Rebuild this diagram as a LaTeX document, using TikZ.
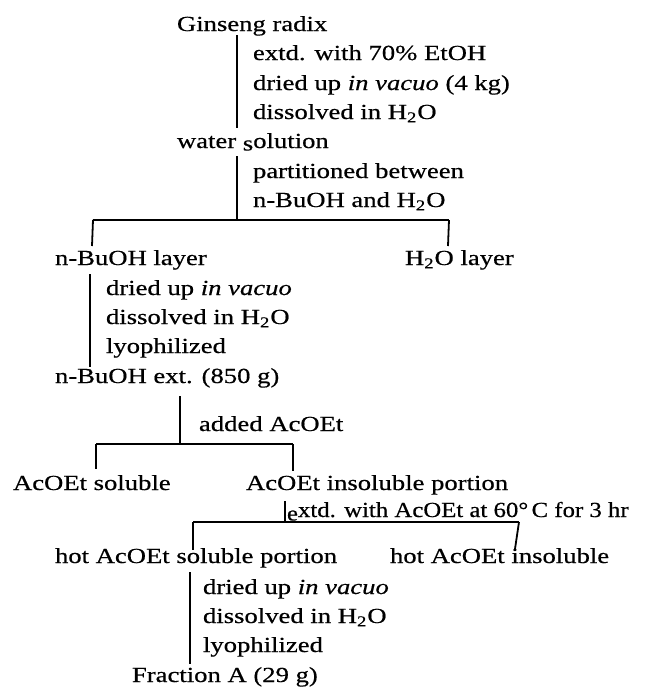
\documentclass[tikz,border=0pt]{standalone}
\usepackage{fontspec}
\usepackage{graphicx}
\setmainfont{Liberation Serif}[FakeStretch=1.24,FakeBold=0.5]
\begin{document}
\begin{tikzpicture}[x=0.5pt,y=-0.5pt,
  lbl/.style={anchor=base west,inner sep=0pt,outer sep=0pt,font=\fontsize{10.75}{13}\selectfont},
  ln/.style={line width=0.9pt}]
\useasboundingbox (0,0) rectangle (650,698);
% --- texts
\node[lbl] (gin) at (177,31) {Ginseng radix};
\node[lbl] (s1a) at (253,60) {extd. with 70\% EtOH};
\node[lbl] (s1b) at (253,90) {dried up \textit{in vacuo} (4 kg)};
\node[lbl] (s1c) at (253,119) {dissolved in H\textsubscript{2}O};
\node[lbl] (wat) at (177,148) {water \raisebox{-0.25ex}{s}olution};
\node[lbl] (s2a) at (253,178) {partitioned between};
\node[lbl] (s2b) at (253,207) {n-BuOH and H\textsubscript{2}O};
\node[lbl] (bul) at (55,265) {n-BuOH layer};
\node[lbl] (h2o) at (405,265) {H\textsubscript{2}O layer};
\node[lbl] (s3a) at (106,295) {dried up \textit{in vacuo}};
\node[lbl] (s3b) at (106,324) {dissolved in H\textsubscript{2}O};
\node[lbl] (s3c) at (106,353) {lyophilized};
\node[lbl] (bue) at (55,383) {n-BuOH ext. (850 g)};
\node[lbl] (s4) at (199,431) {added AcOEt};
\node[lbl] (acs) at (13,490) {AcOEt soluble};
\node[lbl] (aci) at (246,490) {AcOEt insoluble portion};
\node[lbl] (s5) at (287,517) {\scalebox{0.93}[1]{\raisebox{-0.35ex}{e}xtd. with AcOEt at 60°\,C for 3 hr}};
\node[lbl] (hot) at (55,563) {hot AcOEt soluble portion};
\node[lbl] (hin) at (390,563) {hot AcOEt insoluble};
\node[lbl] (s6a) at (203,594) {dried up \textit{in vacuo}};
\node[lbl] (s6b) at (203,623) {dissolved in H\textsubscript{2}O};
\node[lbl] (s6c) at (203,652) {lyophilized};
\node[lbl] (fra) at (132,682) {Fraction A (29 g)};
% --- coordinates
\coordinate (v1a) at (237,35);  \coordinate (v1b) at (237,128);
\coordinate (v2a) at (237,156); \coordinate (v2b) at (237,220);
\coordinate (h1l) at (93,220);  \coordinate (h1r) at (449,220);
\coordinate (d1l) at (92,246);  \coordinate (d1r) at (448,246);
\coordinate (v3a) at (90,274);  \coordinate (v3b) at (90,367);
\coordinate (v4a) at (180,396); \coordinate (v4b) at (180,444);
\coordinate (h2l) at (96,444);  \coordinate (h2r) at (293,444);
\coordinate (d2l) at (96,469);  \coordinate (d2r) at (293,471);
\coordinate (v5a) at (285,501); \coordinate (v5b) at (285,522);
\coordinate (h3l) at (193,522); \coordinate (h3r) at (519,522);
\coordinate (d3l) at (193,550); \coordinate (d3r) at (515,549);
\coordinate (v6a) at (190,572); \coordinate (v6b) at (190,664);
% --- connectors
\draw[ln] (v1a) -- (v1b);
\draw[ln] (v2a) -- (v2b);
\draw[ln] (h1l) -- (h1r);
\draw[ln] (h1l) -- (d1l);
\draw[ln] (h1r) -- (d1r);
\draw[ln] (v3a) -- (v3b);
\draw[ln] (v4a) -- (v4b);
\draw[ln] (h2l) -- (h2r);
\draw[ln] (h2l) -- (d2l);
\draw[ln] (h2r) -- (d2r);
\draw[ln] (v5a) -- (v5b);
\draw[ln] (h3l) -- (h3r);
\draw[ln] (h3l) -- (d3l);
\draw[ln] (h3r) -- (d3r);
\draw[ln] (v6a) -- (v6b);
\end{tikzpicture}
\end{document}
